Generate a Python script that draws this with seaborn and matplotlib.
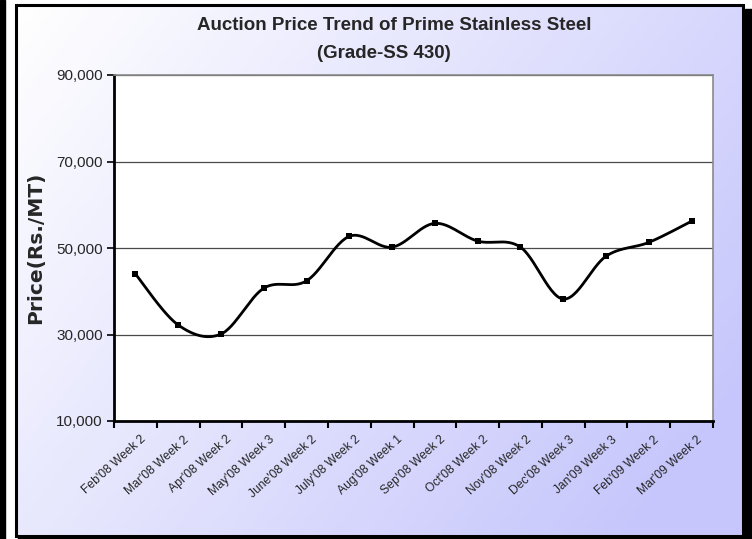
import numpy as np
import pandas as pd
import matplotlib
matplotlib.use("Agg")
import matplotlib.pyplot as plt
import seaborn as sns
from matplotlib.patches import Rectangle
from matplotlib.ticker import FuncFormatter, FixedLocator

categories = ["Feb'08 Week 2", "Mar'08 Week 2", "Apr'08 Week 2", "May'08 Week 3",
              "June'08 Week 2", "July'08 Week 2", "Aug'08 Week 1", "Sep'08 Week 2",
              "Oct'08 Week 2", "Nov'08 Week 2", "Dec'08 Week 3", "Jan'09 Week 3",
              "Feb'09 Week 2", "Mar'09 Week 2"]
prices = [44000, 32200, 30100, 40700, 42400, 52700, 50200, 55700,
          51600, 50200, 38200, 48100, 51300, 56200]
yticks = [10000, 30000, 50000, 70000, 90000]

sns.set_theme(style="white")
plt.rcParams['font.family'] = ['Liberation Sans', 'DejaVu Sans']

W, H = 752, 539
fig = plt.figure(figsize=(W / 100, H / 100), dpi=100)
fig.patch.set_facecolor("white")

# background panel with gradient and frame
bg = fig.add_axes([0, 0, 1, 1])
bg.set_xlim(0, W)
bg.set_ylim(H, 0)
bg.axis("off")
gx, gy = np.meshgrid(np.linspace(0, 1, 200), np.linspace(0, 1, 150))
g = np.clip(0.72 * gx + 0.4 * gy, 0, 1)
c0 = np.array([1.0, 1.0, 1.0])
c1 = np.array([0.78, 0.78, 0.99])
img = c0[None, None, :] * (1 - g[..., None]) + c1[None, None, :] * g[..., None]
bg.imshow(img, extent=(17, 743, 535, 7), aspect="auto", zorder=0)
bg.add_patch(Rectangle((0, 0), 5, H, color="black", zorder=1))
bg.add_patch(Rectangle((745, 9), 7, H, color="black", zorder=1))
bg.add_patch(Rectangle((18, 536), 740, 4, color="black", zorder=1))
bg.add_patch(Rectangle((16, 5), 727, 531, fill=False, edgecolor="black", lw=2.2, zorder=2))

# main axes
ax = fig.add_axes([114 / W, 1 - 421 / H, (713 - 114) / W, (421 - 75) / H])
ax.set_facecolor("white")

x = np.arange(len(categories))
y = np.array(prices, dtype=float)

# Bezier smoothing (Excel-style smoothed line) through the data points
P = np.column_stack([x, y])
Pext = np.vstack([P[0], P, P[-1]])
curve = []
t = np.linspace(0, 1, 30)[:, None]
for i in range(len(P) - 1):
    p0, p1, p2, p3 = Pext[i], Pext[i + 1], Pext[i + 2], Pext[i + 3]
    b1 = p1 + (p2 - p0) / 6
    b2 = p2 - (p3 - p1) / 6
    seg = ((1 - t) ** 3) * p1 + 3 * ((1 - t) ** 2) * t * b1 + 3 * (1 - t) * t ** 2 * b2 + t ** 3 * p2
    curve.append(seg if i == 0 else seg[1:])
curve = np.vstack(curve)
cdf = pd.DataFrame({"x": curve[:, 0], "y": curve[:, 1]})
sns.lineplot(data=cdf, x="x", y="y", ax=ax, color="black", lw=2.0,
             sort=False, estimator=None, zorder=3)
pdf = pd.DataFrame({"x": x, "y": y})
sns.scatterplot(data=pdf, x="x", y="y", ax=ax, marker="s", s=18, color="black",
                edgecolor="black", linewidth=0, zorder=4)

ax.set_xlim(-0.5, len(categories) - 0.5)
ax.set_ylim(10000, 90000)
ax.set_yticks(yticks)
ax.yaxis.set_major_formatter(FuncFormatter(lambda v, p: f"{int(v):,}"))
ax.yaxis.grid(True, color="#4a4a4a", lw=0.9)
ax.set_axisbelow(True)

ax.xaxis.set_major_locator(FixedLocator(np.arange(-0.5, len(categories), 1.0)))
ax.xaxis.set_major_formatter(FuncFormatter(lambda v, p: ""))
ax.xaxis.set_minor_locator(FixedLocator(x))
ax.set_xticklabels(categories, minor=True)
ax.tick_params(axis="x", which="major", direction="out", length=5, width=1.5,
               color="black", bottom=True)
ax.tick_params(axis="x", which="minor", length=0, pad=9, labelsize=8.7)
for lbl in ax.get_xticklabels(minor=True):
    lbl.set_rotation(42)
    lbl.set_ha("right")
    lbl.set_va("top")
    lbl.set_rotation_mode("anchor")
    lbl.set_transform(lbl.get_transform() + matplotlib.transforms.ScaledTranslation(5 / 100, 0, fig.dpi_scale_trans))
ax.tick_params(axis="y", direction="out", length=5, width=1.2, color="black",
               left=True, labelsize=11, pad=3)

for side in ["left", "bottom"]:
    ax.spines[side].set_color("black")
    ax.spines[side].set_linewidth(2)
for side in ["top", "right"]:
    ax.spines[side].set_color("#8a8a8a")
    ax.spines[side].set_linewidth(1.2)

ax.set_xlabel("")
ax.set_ylabel("Price(Rs./MT)", fontsize=14.5, fontweight="bold", labelpad=8,
              family=["DejaVu Sans"])

fig.text(394 / W, 1 - 25 / H, "Auction Price Trend of Prime Stainless Steel",
         ha="center", va="center", fontsize=13.5, fontweight="bold")
fig.text(384 / W, 1 - 53 / H, "(Grade-SS 430)",
         ha="center", va="center", fontsize=13.5, fontweight="bold")

fig.savefig("out.png", dpi=100)
